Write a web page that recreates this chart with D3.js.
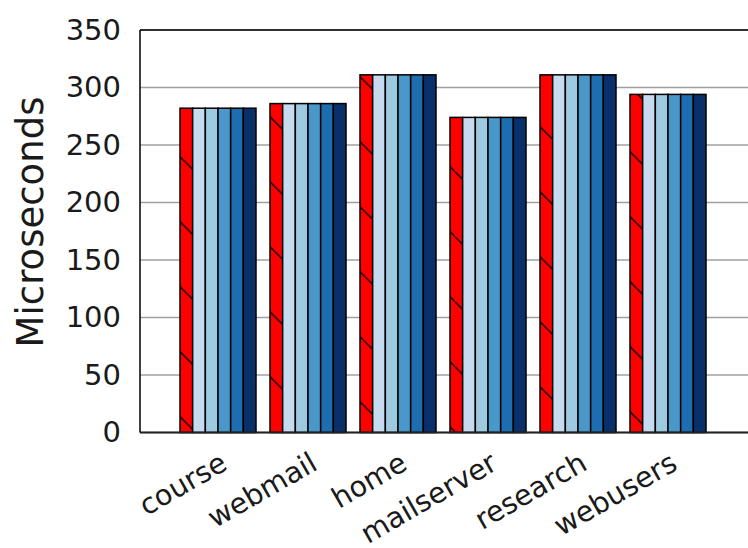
<!DOCTYPE html>
<html>
<head>
<meta charset="utf-8">
<script src="https://cdn.jsdelivr.net/npm/d3@7/dist/d3.min.js"></script>
<style>
  html, body { margin: 0; padding: 0; background: #fff; }
  svg { display: block; }
  text { font-family: "DejaVu Sans", sans-serif; fill: #1a1a1a; }
</style>
</head>
<body>
<svg id="chart" width="748" height="548"></svg>
<script>
const categories = ["course", "webmail", "home", "mailserver", "research", "webusers"];
const seriesNames = ["s1", "s2", "s3", "s4", "s5", "s6"];
const series1 = [282, 286, 311, 274, 311, 294];
const series2 = [282, 286, 311, 274, 311, 294];
const series3 = [282, 286, 311, 274, 311, 294];
const series4 = [282, 286, 311, 274, 311, 294];
const series5 = [282, 286, 311, 274, 311, 294];
const series6 = [282, 286, 311, 274, 311, 294];
const seriesValues = [series1, series2, series3, series4, series5, series6];
const seriesColors = ["#ff0000", "#c6dbef", "#9ecae1", "#4a98c9", "#1f6db1", "#0a306b"];
const yTicks = [0, 50, 100, 150, 200, 250, 300, 350];
const yLabel = "Microseconds";

const svg = d3.select("#chart");
const plotLeft = 140, plotRight = 752, plotTop = 30, plotBottom = 432.5;

const y = d3.scaleLinear().domain([0, 350]).range([plotBottom, plotTop]);
const x0 = d3.scaleBand().domain(categories).range([173, 713])
  .paddingInner(14 / 90).paddingOuter(7 / 90);
const x1 = d3.scaleBand().domain(seriesNames).range([0, x0.bandwidth()]);

// hatch pattern
const defs = svg.append("defs");
const pat = defs.append("pattern")
  .attr("id", "hatch")
  .attr("patternUnits", "userSpaceOnUse")
  .attr("width", 65).attr("height", 65)
  .attr("patternTransform", "translate(0,41.7)");
pat.append("rect").attr("width", 65).attr("height", 65).attr("fill", "#ff0000");
pat.append("line").attr("x1", -5).attr("y1", -5).attr("x2", 70).attr("y2", 70)
  .attr("stroke", "#000").attr("stroke-width", 1.3);

// grid
svg.append("g").selectAll("line").data(yTicks).join("line")
  .attr("x1", plotLeft).attr("x2", plotRight)
  .attr("y1", d => y(d)).attr("y2", d => y(d))
  .attr("stroke", "#a0a0a0").attr("stroke-width", 1.5);

// bars
const flat = [];
categories.forEach((c, ci) => {
  seriesNames.forEach((s, si) => {
    flat.push({ cat: c, ser: s, si: si, v: seriesValues[si][ci] });
  });
});
svg.append("g").selectAll("rect").data(flat).join("rect")
  .attr("x", d => x0(d.cat) + x1(d.ser))
  .attr("y", d => y(d.v))
  .attr("width", x1.bandwidth())
  .attr("height", d => y(0) - y(d.v))
  .attr("fill", d => d.si === 0 ? "url(#hatch)" : seriesColors[d.si])
  .attr("stroke", "#000").attr("stroke-width", 1.5);

// spines
svg.append("line").attr("x1", plotLeft).attr("x2", plotRight).attr("y1", plotTop).attr("y2", plotTop)
  .attr("stroke", "#000").attr("stroke-width", 1.5);
svg.append("line").attr("x1", plotLeft).attr("x2", plotRight).attr("y1", plotBottom).attr("y2", plotBottom)
  .attr("stroke", "#222").attr("stroke-width", 1.8);
svg.append("line").attr("x1", plotLeft).attr("x2", plotLeft).attr("y1", plotTop).attr("y2", plotBottom)
  .attr("stroke", "#000").attr("stroke-width", 1.5);

// y axis
const yAxis = svg.append("g").attr("transform", `translate(${plotLeft},0)`)
  .call(d3.axisLeft(y).tickValues(yTicks).tickSize(0).tickPadding(19));
yAxis.select(".domain").remove();
yAxis.selectAll("text").attr("font-size", 29).attr("font-family", "DejaVu Sans")
  .attr("fill", "#1a1a1a");

// x labels
const xAxis = svg.append("g").attr("transform", `translate(0,${plotBottom})`)
  .call(d3.axisBottom(x0).tickSize(0).tickPadding(0));
xAxis.select(".domain").remove();
xAxis.selectAll(".tick text")
  .attr("font-size", 28.5).attr("font-family", "DejaVu Sans").attr("fill", "#1a1a1a")
  .attr("text-anchor", "end")
  .attr("dy", null).attr("y", null)
  .attr("transform", "translate(11,36) rotate(-30)");

// y label
svg.append("text")
  .attr("transform", "translate(43,222) rotate(-90)")
  .attr("text-anchor", "middle")
  .attr("font-size", 37)
  .text(yLabel);
</script>
</body>
</html>
